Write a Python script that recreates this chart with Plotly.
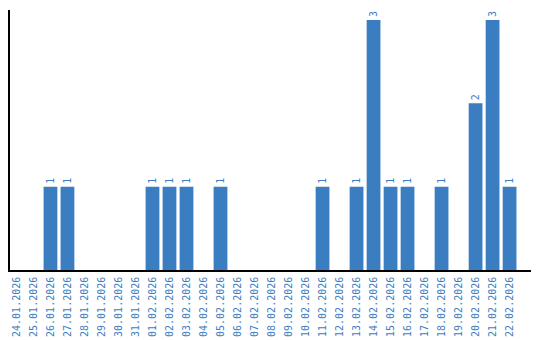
import plotly.graph_objects as go

dates = ["24.01.2026", "25.01.2026", "26.01.2026", "27.01.2026", "28.01.2026", "29.01.2026",
         "30.01.2026", "31.01.2026", "01.02.2026", "02.02.2026", "03.02.2026", "04.02.2026",
         "05.02.2026", "06.02.2026", "07.02.2026", "08.02.2026", "09.02.2026", "10.02.2026",
         "11.02.2026", "12.02.2026", "13.02.2026", "14.02.2026", "15.02.2026", "16.02.2026",
         "17.02.2026", "18.02.2026", "19.02.2026", "20.02.2026", "21.02.2026", "22.02.2026"]
counts = [0, 0, 1, 1, 0, 0, 0, 0, 1, 1, 1, 0, 1, 0, 0, 0, 0, 0,
          1, 0, 1, 3, 1, 1, 0, 1, 0, 2, 3, 1]

labels = [str(v) if v else "" for v in counts]
blue = "#3b7dc1"

fig = go.Figure(go.Bar(
    x=dates, y=counts, text=labels, textposition="outside", textangle=-90,
    textfont=dict(family="DejaVu Sans Mono", size=10, color=blue),
    marker=dict(color=blue, line=dict(width=0)), cliponaxis=False,
))
fig.update_layout(
    width=540, height=340, margin=dict(l=10, r=9, t=10, b=70),
    paper_bgcolor="white", plot_bgcolor="white", showlegend=False, bargap=0.19,
    font=dict(family="DejaVu Sans Mono", size=10, color=blue),
    uniformtext=dict(minsize=10, mode="show"),
)
fig.update_xaxes(type="category", range=[-0.38, 30.26], showline=True, linecolor="black",
                 linewidth=1.5, showgrid=False, ticks="", tickangle=-90, automargin=False,
                 ticklabelstandoff=1,
                 tickfont=dict(family="DejaVu Sans Mono", size=10, color=blue))
fig.update_yaxes(range=[0, 3.12], showline=True, linecolor="black", linewidth=1.5,
                 automargin=False,
                 showgrid=False, zeroline=False, showticklabels=False, ticks="")
fig.write_html("out.html")
